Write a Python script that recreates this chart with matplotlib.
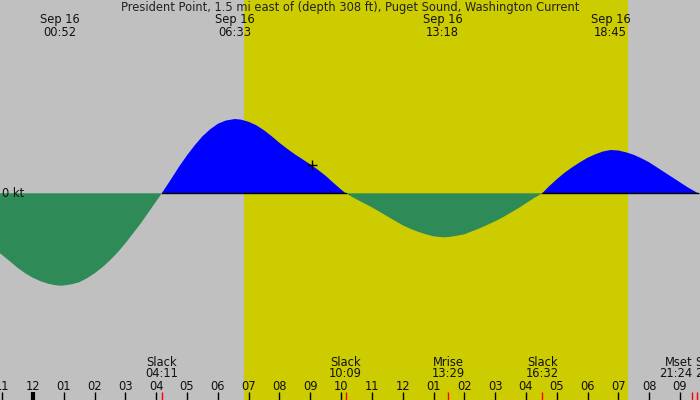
import matplotlib
matplotlib.use("Agg")
import matplotlib.pyplot as plt
import matplotlib.transforms as mtransforms
import numpy as np

# current (kt), time in hours from midnight Sep 16
hours = [-1.07, -0.75, -0.5, -0.25, 0.0, 0.25, 0.5, 0.75, 0.87, 1.0, 1.25,
         1.5, 1.75, 2.0, 2.25, 2.5, 2.75, 3.0, 3.25, 3.5, 3.75, 4.0, 4.18,
         4.5, 4.75, 5.0, 5.25, 5.5, 5.75, 6.0, 6.25, 6.55, 6.75, 7.0, 7.25,
         7.5, 7.75, 8.0, 8.25, 8.5, 8.75, 9.0, 9.25, 9.5, 9.75, 10.0, 10.15,
         10.5, 10.75, 11.0, 11.25, 11.5, 11.75, 12.0, 12.25, 12.5, 12.75,
         13.0, 13.3, 13.5, 13.75, 14.0, 14.25, 14.5, 14.75, 15.0, 15.25,
         15.5, 15.75, 16.0, 16.25, 16.53, 16.75, 17.0, 17.25, 17.5, 17.75,
         18.0, 18.25, 18.5, 18.75, 19.0, 19.25, 19.5, 19.75, 20.0, 20.25,
         20.5, 20.75, 21.0, 21.25, 21.59, 21.65]
current = [-0.60, -0.68, -0.745, -0.80, -0.845, -0.88, -0.905, -0.92, -0.924,
           -0.922, -0.91, -0.89, -0.85, -0.80, -0.74, -0.67, -0.59, -0.50,
           -0.40, -0.30, -0.19, -0.08, 0.0,
           0.15, 0.27, 0.38, 0.48, 0.57, 0.64, 0.695, 0.727, 0.743, 0.737,
           0.715, 0.68, 0.63, 0.57, 0.505, 0.445, 0.39, 0.34, 0.29, 0.235,
           0.175, 0.105, 0.038, 0.0,
           -0.06, -0.10, -0.14, -0.185, -0.23, -0.275, -0.32, -0.355, -0.385,
           -0.41, -0.43, -0.44, -0.437, -0.425, -0.41, -0.38, -0.35, -0.315,
           -0.28, -0.24, -0.195, -0.15, -0.10, -0.05, 0.0,
           0.07, 0.14, 0.205, 0.26, 0.31, 0.355, 0.39, 0.418, 0.433, 0.428,
           0.41, 0.385, 0.35, 0.31, 0.26, 0.21, 0.16, 0.11, 0.06, 0.0, -0.01]

# max / min current events (top labels)
peak_times = [0.867, 6.55, 13.3, 18.75]
peak_labels = ["00:52", "06:33", "13:18", "18:45"]

# slack and moon events (bottom labels)
event_times = [4.183, 10.15, 13.483, 16.533, 21.4, 21.55]
event_names = ["Slack", "Slack", "Mrise", "Slack", "Mset", "Slack"]
event_labels = ["04:11", "10:09", "13:29", "16:32", "21:24", "21:33"]
event_align = ["center", "center", "center", "center", "right", "left"]

flood_spans = [(4.183, 10.15), (16.533, 21.59)]
sunrise, sunset = 6.85, 19.30
now_time, now_value = 9.05, 0.283

title = "President Point, 1.5 mi east of (depth 308 ft), Puget Sound, Washington Current"

fig = plt.figure(figsize=(7, 4), dpi=100, facecolor="#c0c0c0")
ax = fig.add_axes([0, 0, 1, 1])
ax.set_xlim(-1.071, 21.65)
ax.set_ylim(-2.067, 1.933)
ax.axis("off")

ax.axvspan(sunrise, sunset, color="#cccc00", lw=0)

t = np.array(hours)
v = np.array(current)
ax.fill_between(t, 0, v, where=v >= 0, interpolate=True, color="#0000ff", lw=0)
ax.fill_between(t, 0, v, where=v <= 0, interpolate=True, color="#2e8b57", lw=0)
for a, b in flood_spans:
    ax.plot([a, b], [0, 0], color="black", lw=1)

ax.plot(now_time, now_value, marker="+", color="black", ms=7, mew=1)

trans = mtransforms.blended_transform_factory(ax.transData, ax.transAxes)


def ypx(p):
    return 1 - p / 400.0


fs = 8.3
ax.text(0.5, ypx(8), title, transform=ax.transAxes, ha="center", va="center",
        fontsize=fs, color="#222222")
ax.text(-1.0, 0, "0 kt", ha="left", va="center", fontsize=fs, color="#111111")

for tm, lbl in zip(peak_times, peak_labels):
    ax.text(tm, ypx(20), "Sep 16", transform=trans, ha="center", va="center",
            fontsize=fs, color="#111111")
    ax.text(tm, ypx(32), lbl, transform=trans, ha="center", va="center",
            fontsize=fs, color="#111111")

for tm, nm, lbl, al in zip(event_times, event_names, event_labels, event_align):
    x = tm
    if al == "left":
        x = tm - 0.05
    ax.text(x, ypx(362), nm, transform=trans, ha=al, va="center",
            fontsize=fs, color="#111111")
    ax.text(x, ypx(373.5), lbl, transform=trans, ha=al, va="center",
            fontsize=fs, color="#111111")
    ax.vlines(tm, 0, 8 / 400, transform=trans, color="red", lw=1)

for h in range(-1, 22):
    lbl = "%02d" % ((h - 1) % 12 + 1)
    ax.text(h, ypx(386), lbl, transform=trans, ha="center", va="center",
            fontsize=fs, color="#111111")
    ax.vlines(h, 0, 8 / 400, transform=trans, color="black",
              lw=3 if h == 0 else 1)

fig.savefig("out.png", dpi=100, facecolor=fig.get_facecolor())
